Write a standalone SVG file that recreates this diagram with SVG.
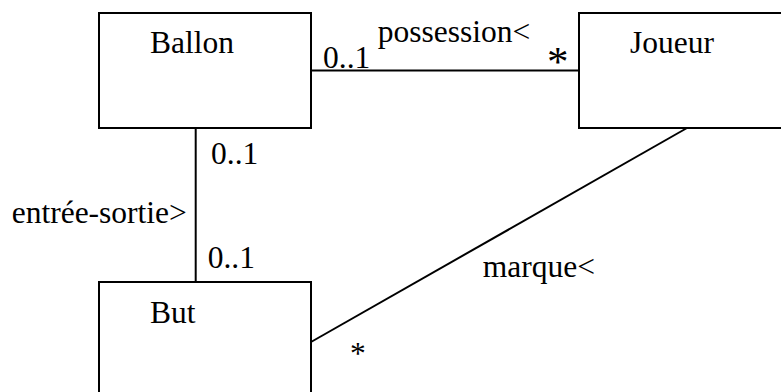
<svg xmlns="http://www.w3.org/2000/svg" width="781" height="392" viewBox="0 0 781 392">
<style>
.box{fill:#fff;stroke:#000;stroke-width:2}
.ln{stroke:#000;stroke-width:2;fill:none}
text{font-family:"Liberation Serif","Times New Roman",serif;font-size:31.5px;fill:#000}
</style>
<rect width="781" height="392" fill="#fff"/>
<g id="connectors">
<line class="ln" x1="311" y1="70.5" x2="579" y2="70.5"/>
<line class="ln" x1="195.7" y1="128" x2="195.7" y2="282"/>
<line class="ln" x1="687" y1="128" x2="311" y2="342"/>
<text x="323" y="68">0..1</text>
<text x="377.7" y="42">possession&lt;</text>
<text x="547" y="76" style="font-size:43px">*</text>
<text x="211" y="164.3">0..1</text>
<text x="11.7" y="223.3">entrée-sortie&gt;</text>
<text x="207.7" y="268.3">0..1</text>
<text x="482.7" y="276.7">marque&lt;</text>
<text x="350" y="364">*</text>
</g>
<g id="ballon">
<rect class="box" x="99" y="13" width="212" height="115"/>
<text x="150" y="52.7">Ballon</text>
</g>
<g id="joueur">
<rect class="box" x="579" y="13" width="212" height="115"/>
<text x="630" y="52.7">Joueur</text>
</g>
<g id="but">
<rect class="box" x="99" y="282" width="212" height="115"/>
<text x="150" y="322.7">But</text>
</g>
</svg>
